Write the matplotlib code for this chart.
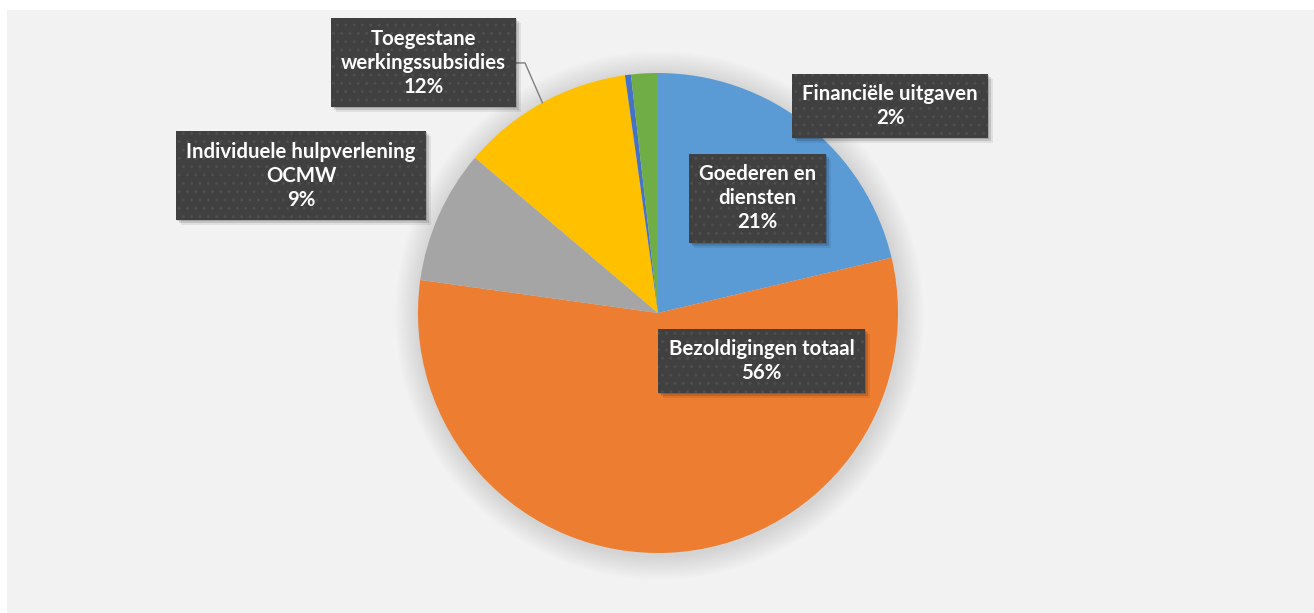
import numpy as np
import matplotlib
matplotlib.use("Agg")
import matplotlib.pyplot as plt
from matplotlib.patches import Rectangle, Circle
from matplotlib.transforms import IdentityTransform

# Slice names and shares (percent)
names = [
    "Goederen en\ndiensten",
    "Bezoldigingen totaal",
    "Individuele hulpverlening\nOCMW",
    "Toegestane\nwerkingssubsidies",
    "",
    "Financiële uitgaven",
]
values = [21.3, 55.9, 9.0, 11.6, 0.4, 1.8]
colors = ["#5B9BD5", "#ED7D31", "#A5A5A5", "#FFC000", "#4472C4", "#70AD47"]

# where each data label box sits (pie data units, radius = 1)
label_pos = [
    (0.415, 0.479),
    (0.431, -0.2),
    (-1.4875, 0.571),
    (-0.977, 1.042),
    None,
    (0.967, 0.8625),
]

plt.rcParams["font.family"] = ["Lato", "DejaVu Sans"]
plt.rcParams["hatch.color"] = "#4E4E4E"
plt.rcParams["hatch.linewidth"] = 1.0

W, H = 1314, 613
fig = plt.figure(figsize=(W / 100, H / 100), dpi=100)
fig.patch.set_facecolor("white")

# chart area background
bg = fig.add_axes([7 / W, 0, 1 - 7 / W, (H - 10) / H], zorder=-5)
bg.set_facecolor("#F2F2F2")
bg.set_xticks([])
bg.set_yticks([])
for s in bg.spines.values():
    s.set_visible(False)

cx, cy, r = 658, 313, 240
ax = fig.add_axes([(cx - r) / W, (H - cy - r) / H, 2 * r / W, 2 * r / H])
ax.set_axis_off()

# soft shadow around the pie
for i in range(10):
    ax.add_patch(Circle((0.006, -0.01), 1.0 + 0.01 * (i + 1), fc="#000000",
                        alpha=0.013, ec="none", zorder=0, clip_on=False))

wedges, _ = ax.pie(values, colors=colors, startangle=90, counterclock=False,
                   radius=1.0, wedgeprops=dict(linewidth=0))
for w in wedges:
    w.set_zorder(2)

ax.set_xlim(-1, 1)
ax.set_ylim(-1, 1)
ax.set_aspect("equal")

total = sum(values)
label_texts = []
for name, v, pos in zip(names, values, label_pos):
    if pos is None:
        continue
    txt = f"{name}\n{round(v / total * 100)}%"
    t = ax.text(pos[0], pos[1], txt, ha="center", va="center",
                fontsize=14.7, fontweight="bold", color="white", linespacing=1.27,
                bbox=dict(boxstyle="square,pad=0.5", fc="#404040", ec="#4E4E4E",
                          lw=0, hatch=".."),
                zorder=6)
    label_texts.append(t)

# leader line for the subsidies label
yel = wedges[3]
mid = np.deg2rad((yel.theta1 + yel.theta2) / 2)
ax.plot([-0.592, -0.554, np.cos(mid)], [1.042, 1.042, np.sin(mid)],
        color="#7F7F7F", lw=1.0, zorder=3, clip_on=False)

# soft drop shadow under each label box
fig.canvas.draw()
for t in label_texts:
    bb = t.get_bbox_patch().get_window_extent()
    for k, a in [(1, 0.16), (3, 0.13), (5, 0.07)]:
        ax.add_patch(Rectangle((bb.x0 + k, bb.y0 - k), bb.width, bb.height,
                               transform=IdentityTransform(), fc="black", alpha=a,
                               ec="none", zorder=4, clip_on=False))

fig.savefig("out.png", dpi=100, facecolor=fig.get_facecolor())
